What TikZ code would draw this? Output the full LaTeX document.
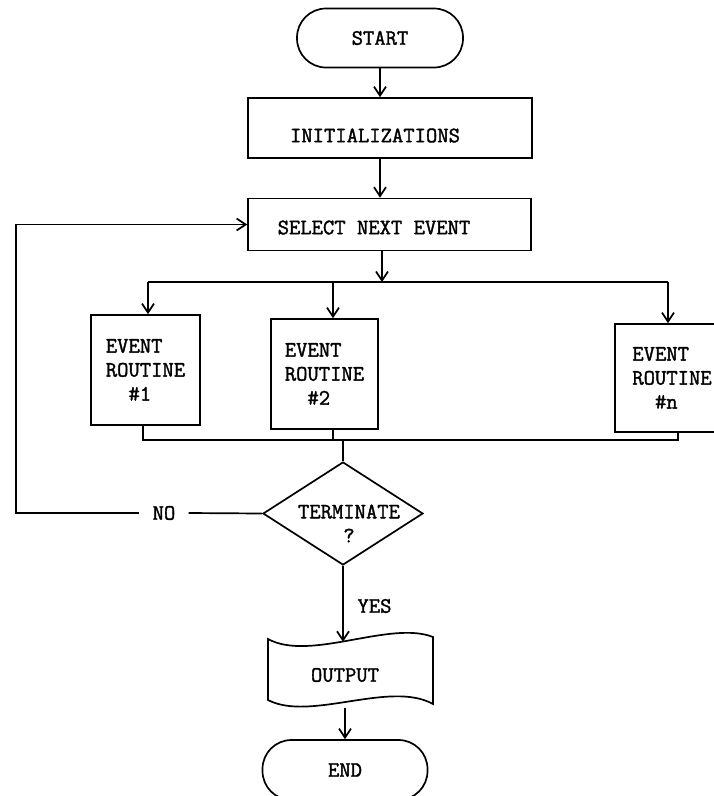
\documentclass[tikz,border=0pt]{standalone}
\usepackage{fontspec}
\newfontfamily\flowfont{Latin Modern Mono}[FakeBold=1.6]
\usetikzlibrary{arrows.meta,shapes.geometric}
\begin{document}
\begin{tikzpicture}[x=1pt,y=-1pt,
  every node/.style={font=\fontsize{22}{24}\selectfont\flowfont},
  ln/.style={line width=1.7pt},
  arr/.style={ln,-{Straight Barb[length=9pt,width=12pt]}},
  box/.style={draw,ln,rectangle,inner sep=0pt},
  pill/.style={draw,ln,rectangle,rounded corners=29pt,inner sep=0pt},
  txt/.style={inner sep=0pt}]
\useasboundingbox (0,0) rectangle (714,796);
\clip (0,0) rectangle (714,796);

% main nodes
\node[pill, minimum width=166pt, minimum height=59pt] (start) at (380,38) {START};
\node[box, minimum width=284pt, minimum height=60pt] (init) at (390,128) {};
\node[txt] (initT) at (375,135.5) {INITIALIZATIONS};
\node[box, minimum width=283pt, minimum height=52pt] (sel) at (389.5,224.5) {};
\node[txt] (selT) at (374,227.5) {SELECT NEXT EVENT};

\node[box, minimum width=109pt, minimum height=110pt, align=left] (r1) at (145.5,370) {EVENT\\ROUTINE\\\phantom{RO}\#1};
\node[box, minimum width=107pt, minimum height=110pt, align=left] (r2) at (324.5,374) {EVENT\\ROUTINE\\\phantom{RO}\#2};
\node[box, minimum width=114pt, minimum height=108pt, align=left] (rn) at (672,378) {EVENT\\ROUTINE\\\phantom{RO}\#n};

\node[diamond, draw, ln, minimum width=160pt, minimum height=103pt, inner sep=0pt] (term) at (343,513.5) {};
\node[txt, align=center] (termT) at (349,523.5) {TERMINATE\\?};
\node[inner xsep=13pt, inner ysep=0pt] (no) at (164,513) {NO};
\node[txt] (yes) at (374.5,606) {YES};

\node[txt, minimum width=165pt, minimum height=66pt] (out) at (345,675) {OUTPUT};
\draw[ln] (268,639) .. controls (310,662) and (390,620) .. (433,637)
  -- (433,704) .. controls (390,680) and (310,722) .. (268,700) -- cycle;

\node[pill, minimum width=165pt, minimum height=60pt] (end) at (345,770) {END};

% connectors
\draw[arr] (start.south) -- (start.south |- init.north);
\draw[arr] (start.south |- init.south) -- (start.south |- sel.north);

\coordinate (tbs) at (382,282);
\coordinate (tb1) at (148,282);
\coordinate (tb2) at (333,282);
\coordinate (tbn) at (668,282);
\draw[arr] (tbs |- sel.south) -- (tbs);
\draw[ln] (tb1) -- (tbn);
\draw[arr] (tb1) -- (tb1 |- r1.north);
\draw[arr] (tb2) -- (tb2 |- r2.north);
\draw[arr] (tbn) -- (tbn |- rn.north);

\coordinate (bb1) at (143,440);
\coordinate (bb2) at (333,440);
\coordinate (bbn) at (678,440);
\draw[ln] (bb1 |- r1.south) -- (bb1) -- (bbn) -- (bbn |- rn.south);
\draw[ln] (bb2 |- r2.south) -- (bb2);
\draw[ln] (term.north |- bb1) -- (term.north);

\coordinate (fb) at (16,513);
\draw[ln] (term.west) -- (no.east);
\draw[arr] (no.west) -- (fb) -- (fb |- sel.west) -- (sel.west);

\draw[arr] (term.south) -- (term.south |- out.north);
\draw[arr] (end.north |- out.south) -- (end.north);
\end{tikzpicture}
\end{document}
